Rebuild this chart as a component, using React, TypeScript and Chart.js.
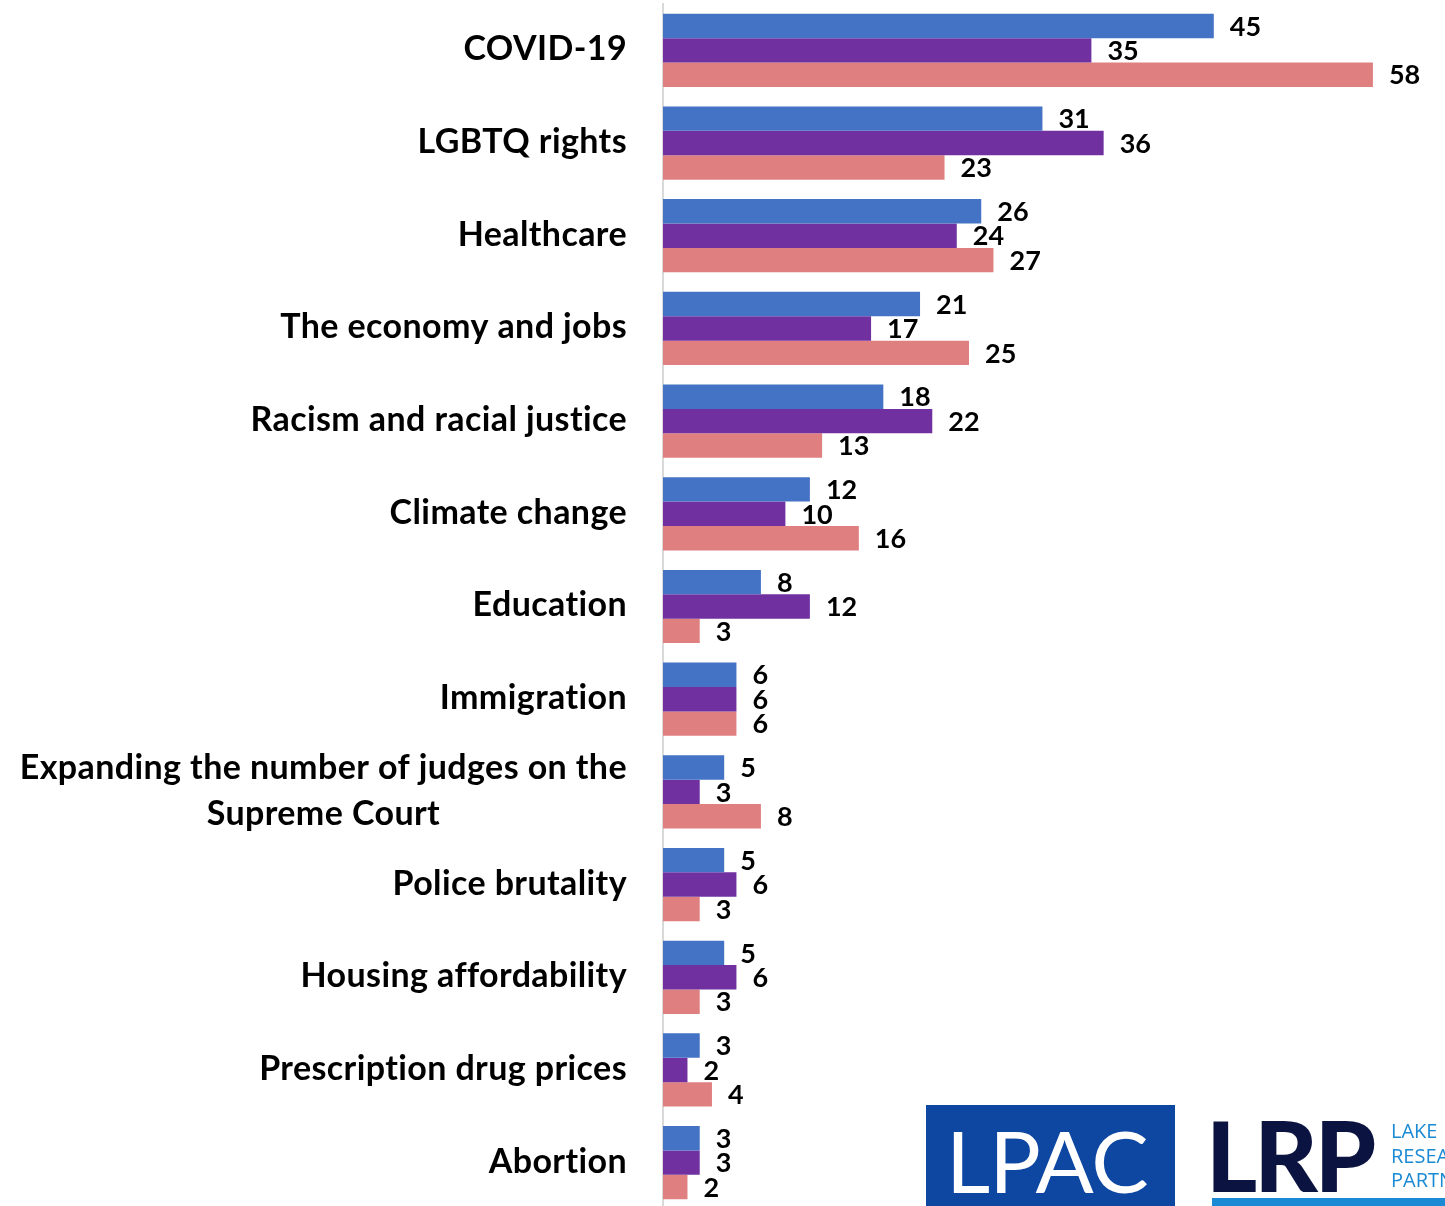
import React, { useEffect, useRef } from "react";
import { Chart, registerables } from "chart.js";

Chart.register(...registerables);

const categories: string[][] = [
  ["COVID-19"],
  ["LGBTQ rights"],
  ["Healthcare"],
  ["The economy and jobs"],
  ["Racism and racial justice"],
  ["Climate change"],
  ["Education"],
  ["Immigration"],
  ["Expanding the number of judges on the", "Supreme Court"],
  ["Police brutality"],
  ["Housing affordability"],
  ["Prescription drug prices"],
  ["Abortion"],
];

const seriesBlue = [45, 31, 26, 21, 18, 12, 8, 6, 5, 5, 5, 3, 3];
const seriesPurple = [35, 36, 24, 17, 22, 10, 12, 6, 3, 6, 6, 2, 3];
const seriesSalmon = [58, 23, 27, 25, 13, 16, 3, 6, 8, 3, 3, 4, 2];

const seriesNames = ["Series 1", "Series 2", "Series 3"];
const seriesColors = ["#4472C4", "#7030A0", "#E07F7F"];

const LABEL_FONT = "bold 34px Lato";
const VALUE_FONT = "bold 27px Lato";

const categoryLabelPlugin = {
  id: "categoryLabels",
  afterDraw(chart: any) {
    const ctx = chart.ctx;
    const yScale = chart.scales.y;
    const rightEdge = chart.chartArea.left - 36;
    ctx.save();
    ctx.font = LABEL_FONT;
    try {
      ctx.letterSpacing = "0.4px";
    } catch (e) {}
    ctx.fillStyle = "#000000";
    ctx.textBaseline = "middle";
    ctx.textAlign = "center";
    const lineH = 46;
    categories.forEach((lines, i) => {
      const cy = yScale.getPixelForValue(i) - 1;
      const maxW = Math.max(...lines.map((l) => ctx.measureText(l).width));
      const cx = rightEdge - maxW / 2;
      const startY = cy - ((lines.length - 1) * lineH) / 2;
      lines.forEach((l, j) => {
        ctx.fillText(l, cx, startY + j * lineH);
      });
    });
    ctx.restore();
  },
};

const valueLabelPlugin = {
  id: "valueLabels",
  afterDatasetsDraw(chart: any) {
    const ctx = chart.ctx;
    ctx.save();
    ctx.font = VALUE_FONT;
    ctx.fillStyle = "#000000";
    ctx.textBaseline = "middle";
    ctx.textAlign = "left";
    chart.data.datasets.forEach((ds: any, di: number) => {
      const meta = chart.getDatasetMeta(di);
      meta.data.forEach((el: any, i: number) => {
        ctx.fillText(String(ds.data[i]), el.x + 16, el.y + 1);
      });
    });
    ctx.restore();
  },
};

function BarChart() {
  const ref = useRef<HTMLCanvasElement | null>(null);
  useEffect(() => {
    if (!ref.current) return;
    const chart = new Chart(ref.current, {
      type: "bar",
      data: {
        labels: categories.map((c) => c.join(" ")),
        datasets: [seriesBlue, seriesPurple, seriesSalmon].map((d, i) => ({
          label: seriesNames[i],
          data: d,
          backgroundColor: seriesColors[i],
          borderWidth: 0,
          barPercentage: 1,
          categoryPercentage: 0.79,
        })),
      },
      options: {
        indexAxis: "y",
        animation: false,
        responsive: false,
        maintainAspectRatio: false,
        layout: { padding: { top: 4, bottom: 0, left: 0, right: 47.6 } },
        plugins: {
          legend: { display: false },
          tooltip: { enabled: false },
        },
        scales: {
          x: {
            display: false,
            min: 0,
            max: 60,
          },
          y: {
            display: true,
            ticks: { display: false },
            grid: { display: false },
            border: { display: true, color: "#D9D9D9", width: 2 },
            afterFit: (s: any) => {
              s.width = 663;
            },
          },
        },
      },
      plugins: [categoryLabelPlugin, valueLabelPlugin],
    });
    return () => chart.destroy();
  }, []);
  return <canvas ref={ref} width={1445} height={1209} style={{ display: "block" }} />;
}

export default function App() {
  return (
    <div
      style={{
        position: "fixed",
        left: 0,
        top: 0,
        width: 1445,
        height: 1206,
        overflow: "hidden",
        background: "#ffffff",
      }}
    >
      <BarChart />
      <div
        style={{
          position: "absolute",
          left: 926,
          top: 1105,
          width: 249,
          height: 110,
          background: "#0D47A1",
          color: "#ffffff",
          fontFamily: "Lato",
          fontWeight: 400,
          fontSize: 86,
          lineHeight: "110px",
          letterSpacing: -1,
          paddingLeft: 20,
          boxSizing: "border-box",
        }}
      >
        LPAC
      </div>
      <div
        style={{
          position: "absolute",
          left: 1206,
          top: 1094,
          color: "#0B1340",
          fontFamily: "Lato",
          fontWeight: 900,
          fontSize: 98,
          lineHeight: "120px",
          letterSpacing: -3,
        }}
      >
        LRP
      </div>
      <div
        style={{
          position: "absolute",
          left: 1391,
          top: 1119,
          color: "#1A8AD4",
          fontFamily: "Open Sans",
          fontSize: 20,
          lineHeight: "24.5px",
          whiteSpace: "nowrap",
        }}
      >
        LAKE
        <br />
        RESEARCH
        <br />
        PARTNERS
      </div>
      <div
        style={{
          position: "absolute",
          left: 1212,
          top: 1198,
          width: 240,
          height: 10,
          background: "#1A8AD4",
        }}
      />
    </div>
  );
}
